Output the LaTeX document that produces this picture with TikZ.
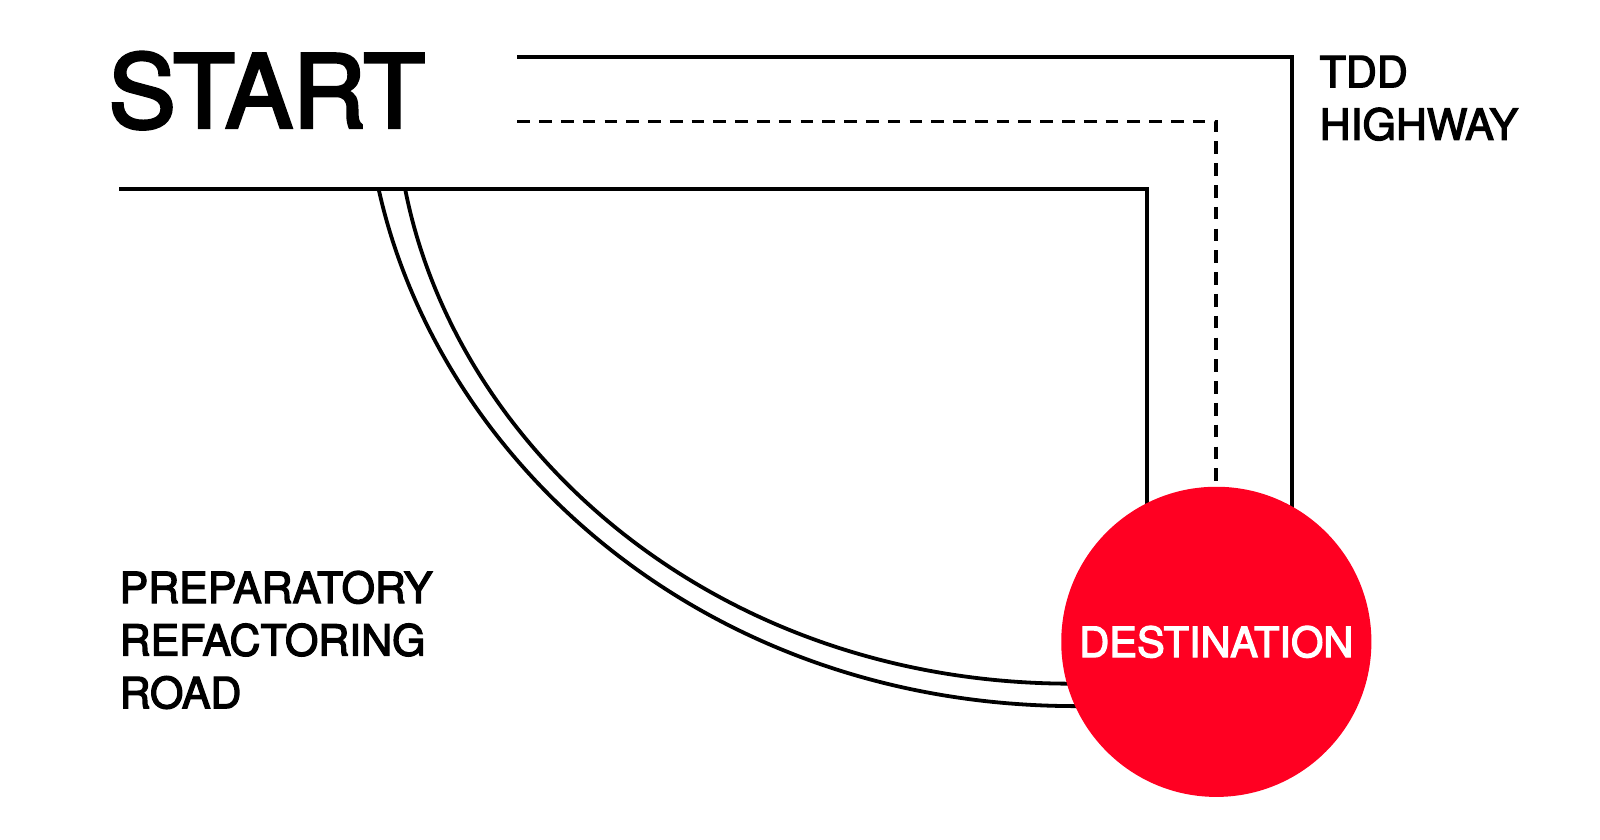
\documentclass[tikz,border=0pt]{standalone}
\usepackage{fontspec}
\setmainfont{TeX Gyre Heros}[FakeBold=3]
\usepackage{tikz}
\definecolor{destred}{RGB}{255,0,34}
\tikzset{
	road/.style={line width=2.7pt, color=black},
	lane/.style={line width=2.7pt, color=black, dash pattern=on 9pt off 6.5pt},
	label/.style={inner sep=0, anchor=base west, align=left, font=\fontsize{30.5}{37.4}\selectfont},
}

\begin{document}
\begin{tikzpicture}[x=0.02551cm, y=-0.02551cm]
			%%%%% START %%%%%
			\useasboundingbox (0, 0) rectangle (1568, 823.2);
			
			\node[label, font=\fontsize{72}{80}\selectfont] (start) at (106, 125) {START};
			\node[label] (tdd) at (1293, 137) {TDD\\HIGHWAY};
			\node[label] (prep) at (117, 694) {PREPARATORY\\REFACTORING\\ROAD};
			
			% highway
			\draw[road] (507, 56) -- (1266, 56) -- (1266, 560);
			\draw[lane] (507, 119) -- (1192, 119) -- (1192, 560);
			\draw[road] (117, 185) -- (1124, 185) -- (1124, 560);
			
			% refactoring road
			\draw[road] (371, 185) .. controls (430, 452) and (690, 692) .. (1055, 692) -- (1100, 692);
			\draw[road] (397, 185) .. controls (448, 445) and (705, 670) .. (1050, 670) -- (1100, 670);
			
			\node[circle, fill=destred, minimum size=7.755cm, inner sep=0, text=white, font=\fontsize{29.6}{32}\selectfont] (dest) at (1192, 629) {DESTINATION};
			
			%%%%% END %%%%%
		\end{tikzpicture}
\end{document}
